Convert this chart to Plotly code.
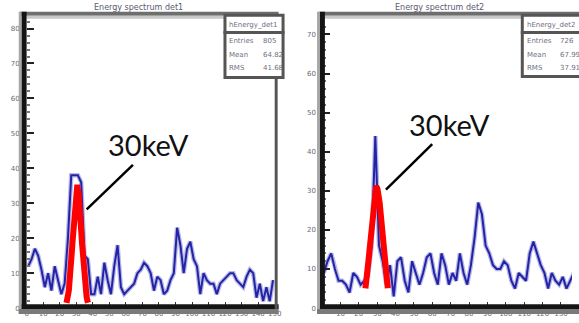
import numpy as np
import plotly.graph_objects as go

W, H = 579, 323

# ---- histogram contents (2 keV bins, starting at 0 keV) ----
bin_width_kev = 2.0
counts_det1 = [12, 14, 17, 15, 11, 6, 10, 5, 12, 8, 4, 7, 20, 38, 38, 38, 36, 15, 14, 4,
               4, 9, 4, 13, 8, 4, 12, 18, 6, 4, 5, 6, 7, 10, 11, 13, 12, 10, 5, 9,
               8, 4, 5, 8, 10, 23, 18, 10, 17, 19, 14, 12, 4, 10, 8, 7, 7, 4, 7, 8,
               9, 10, 10, 8, 7, 6, 9, 11, 10, 3, 7, 2, 6, 2, 8]
counts_det2 = [9, 12, 14, 10, 7, 7, 6, 4, 9, 8, 6, 7, 8, 16, 44, 16, 12, 6, 11, 3,
               12, 13, 7, 4, 12, 9, 6, 9, 13, 14, 9, 6, 14, 11, 6, 9, 7, 14, 9, 6,
               11, 18, 27, 24, 16, 14, 11, 10, 10, 12, 11, 7, 5, 9, 8, 7, 14, 17, 14, 11,
               9, 5, 9, 7, 6, 8, 5, 7, 9]

# Gaussian fit results for the 30 keV line (drawn over mean +/- nsig*sigma)
fit_det1 = {"amp": 34.5, "mean": 30.6, "sigma": 2.6, "nsig": 2.5}
fit_det2 = {"amp": 30.8, "mean": 29.7, "sigma": 3.2, "nsig": 1.9}

titles = ["Energy spectrum det1", "Energy spectrum det2"]
hist_names = ["hEnergy_det1", "hEnergy_det2"]
peak_label = "30keV"

# axis settings per pad
x_ranges = [[0, 150], [0.5, 136]]
y_ranges = [[0, 82.8], [0, 74.0]]


def px_x(p):
    return p / W


def px_y(p):
    return 1 - p / H


def centres(counts):
    return [bin_width_kev * (i + 0.5) for i in range(len(counts))]


def gauss_curve(fit):
    x = np.linspace(fit["mean"] - fit["nsig"] * fit["sigma"],
                    fit["mean"] + fit["nsig"] * fit["sigma"], 80)
    y = fit["amp"] * np.exp(-0.5 * ((x - fit["mean"]) / fit["sigma"]) ** 2)
    return x, y


def stats(counts):
    x = np.array(centres(counts))
    c = np.array(counts, dtype=float)
    n = c.sum()
    mean = (x * c).sum() / n
    rms = np.sqrt(((x - mean) ** 2 * c).sum() / n)
    return int(n), mean, rms


fig = go.Figure()

pads = [
    dict(counts=counts_det1, fit=fit_det1, xa="x", ya="y"),
    dict(counts=counts_det2, fit=fit_det2, xa="x2", ya="y2"),
]

for pad in pads:
    xs = centres(pad["counts"])
    # soft halo + core for the histogram polyline
    fig.add_trace(go.Scatter(x=xs, y=pad["counts"], mode="lines",
                             line=dict(color="#b9b9e6", width=4.5),
                             xaxis=pad["xa"], yaxis=pad["ya"], hoverinfo="skip"))
    fig.add_trace(go.Scatter(x=xs, y=pad["counts"], mode="lines",
                             line=dict(color="#2323a8", width=2),
                             xaxis=pad["xa"], yaxis=pad["ya"]))
    gx, gy = gauss_curve(pad["fit"])
    fig.add_trace(go.Scatter(x=gx, y=gy, mode="lines",
                             line=dict(color="#ff0000", width=6),
                             xaxis=pad["xa"], yaxis=pad["ya"]))

# pad geometry in pixels: (inner left, inner right)
pad_px = [(25, 277), (326, 579)]
y_top_px, y_bot_px = 19, 312

tickfont = dict(family="DejaVu Sans", size=7, color="#6a6a78")
for i, (l, r) in enumerate(pad_px):
    sfx = "" if i == 0 else "2"
    fig.layout["xaxis" + sfx] = dict(
        domain=[px_x(l), min(px_x(r), 1)], range=x_ranges[i], anchor="y" + sfx,
        showgrid=False, zeroline=False, showline=False,
        ticks="inside", ticklen=6, tickwidth=1, tickcolor="#333", dtick=10,
        minor=dict(ticks="inside", ticklen=3, tickcolor="#888", dtick=2.5),
        tickfont=tickfont,
    )
    fig.layout["yaxis" + sfx] = dict(
        domain=[px_y(y_bot_px), px_y(y_top_px)], range=y_ranges[i], anchor="x" + sfx,
        showgrid=False, zeroline=False, showline=False,
        ticks="inside", ticklen=7, tickwidth=1.5, tickcolor="#222", dtick=10,
        minor=dict(ticks="inside", ticklen=3, tickcolor="#777", dtick=2),
        tickfont=tickfont, ticklabelstandoff=6,
    )

shapes = []


def band(x0, y0, x1, y1, color):
    shapes.append(dict(type="rect", xref="paper", yref="paper", layer="above",
                       x0=px_x(x0), x1=px_x(x1), y0=px_y(y1), y1=px_y(y0),
                       fillcolor=color, line=dict(width=0)))


# frame of the first pad
band(18, 12, 281, 16, "#6e6e6e")
band(25, 16, 277, 19, "#c8c8c8")
band(17, 12, 20, 318, "#a8a8a8")
band(20, 12, 25, 313, "#141414")
band(20, 308, 281, 313, "#141414")
band(17, 313, 281, 318, "#7a7a7a")
band(277, 16, 280, 313, "#555555")
# frame of the second pad (runs past the right edge)
band(322, 12, 600, 16, "#6e6e6e")
band(327, 16, 600, 19, "#c8c8c8")
band(320, 12, 323, 318, "#a8a8a8")
band(323, 12, 328, 313, "#141414")
band(323, 308, 600, 313, "#141414")
band(320, 313, 600, 318, "#7a7a7a")

annotations = []

# statistics boxes
boxes = [(225, 14, 287, 80), (527, 14, 640, 79)]
for i, (bx0, by0, bx1, by1) in enumerate(boxes):
    shapes.append(dict(type="rect", xref="paper", yref="paper", layer="above",
                       x0=px_x(bx0 + 1.5), x1=px_x(bx1 - 1.5),
                       y0=px_y(by1 - 1.5), y1=px_y(by0 + 1.5),
                       fillcolor="white", line=dict(color="#555", width=3)))
    shapes.append(dict(type="line", xref="paper", yref="paper", layer="above",
                       x0=px_x(bx0), x1=px_x(bx1), y0=px_y(33), y1=px_y(33),
                       line=dict(color="#555", width=3)))
    n, mean, rms = stats(pads[i]["counts"])
    sfont = dict(family="DejaVu Sans", size=7, color="#707080")
    annotations.append(dict(text=hist_names[i], xref="paper", yref="paper",
                            x=px_x(bx0 + 4), y=px_y(25), xanchor="left", yanchor="middle",
                            showarrow=False, font=sfont))
    rows = [("Entries", f"{n}"), ("Mean", f"{mean:.2f}"), ("RMS", f"{rms:.2f}")]
    for j, (lab, val) in enumerate(rows):
        yy = px_y(42 + 13.5 * j)
        annotations.append(dict(text=lab, xref="paper", yref="paper",
                                x=px_x(bx0 + 4), y=yy, xanchor="left", yanchor="middle",
                                showarrow=False, font=sfont))
        annotations.append(dict(text=val, xref="paper", yref="paper",
                                x=px_x(bx0 + 38), y=yy, xanchor="left", yanchor="middle",
                                showarrow=False, font=sfont))

# pad titles
title_centres = [139, 444]
for i, cx in enumerate(title_centres):
    annotations.append(dict(text=titles[i], xref="paper", yref="paper",
                            x=px_x(cx), y=px_y(8), xanchor="center", yanchor="middle",
                            showarrow=False,
                            font=dict(family="DejaVu Sans", size=8, color="#5a5a70")))

# 30 keV labels with pointer lines
labels = [((149, 146), (86, 212), (133, 167)),
          ((455, 126), (390, 192), (437, 146))]
for (tx, ty), (lx0, ly0), (lx1, ly1) in labels:
    annotations.append(dict(text=peak_label, xref="paper", yref="paper",
                            x=px_x(tx), y=px_y(ty), xanchor="center", yanchor="middle",
                            showarrow=False,
                            font=dict(family="Lato", size=29, color="#111")))
    shapes.append(dict(type="line", xref="paper", yref="paper", layer="above",
                       x0=px_x(lx0), y0=px_y(ly0), x1=px_x(lx1), y1=px_y(ly1),
                       line=dict(color="#000", width=2.5)))

fig.update_layout(
    width=W, height=H, margin=dict(l=0, r=0, t=0, b=0),
    paper_bgcolor="white", plot_bgcolor="white",
    showlegend=False, shapes=shapes, annotations=annotations,
)

fig.write_html("out.html")
